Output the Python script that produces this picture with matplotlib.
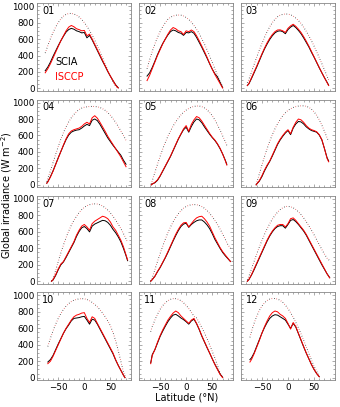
import matplotlib
matplotlib.use('Agg')
import matplotlib.pyplot as plt
from matplotlib.ticker import MultipleLocator

# month labels
months = ['01', '02', '03', '04', '05', '06', '07', '08', '09', '10', '11', '12']

# latitude grids (deg N), one list per month
lats = [
    [-75, -70, -65, -60, -55, -50, -45, -40, -35, -30, -25, -20, -15, -10, -5, 0, 5, 10, 15, 20, 25, 30, 35, 40, 45, 50, 55, 60, 65],
    [-75, -70, -65, -60, -55, -50, -45, -40, -35, -30, -25, -20, -15, -10, -5, 0, 5, 10, 15, 20, 25, 30, 35, 40, 45, 50, 55, 60, 65, 70],
    [-78, -75, -70, -65, -60, -55, -50, -45, -40, -35, -30, -25, -20, -15, -10, -5, 0, 5, 10, 15, 20, 25, 30, 35, 40, 45, 50, 55, 60, 65, 70, 75, 78],
    [-72, -70, -65, -60, -55, -50, -45, -40, -35, -30, -25, -20, -15, -10, -5, 0, 5, 10, 15, 20, 25, 30, 35, 40, 45, 50, 55, 60, 65, 70, 75, 80],
    [-67, -65, -60, -55, -50, -45, -40, -35, -30, -25, -20, -15, -10, -5, 0, 5, 10, 15, 20, 25, 30, 35, 40, 45, 50, 55, 60, 65, 70, 75, 78],
    [-61, -60, -55, -50, -45, -40, -35, -30, -25, -20, -15, -10, -5, 0, 5, 10, 15, 20, 25, 30, 35, 40, 45, 50, 55, 60, 65, 70, 75, 78],
    [-63, -60, -55, -50, -45, -40, -35, -30, -25, -20, -15, -10, -5, 0, 5, 10, 15, 20, 25, 30, 35, 40, 45, 50, 55, 60, 65, 70, 75, 80, 83],
    [-68, -65, -60, -55, -50, -45, -40, -35, -30, -25, -20, -15, -10, -5, 0, 5, 10, 15, 20, 25, 30, 35, 40, 45, 50, 55, 60, 65, 70, 75, 80, 85],
    [-78, -75, -70, -65, -60, -55, -50, -45, -40, -35, -30, -25, -20, -15, -10, -5, 0, 5, 10, 15, 20, 25, 30, 35, 40, 45, 50, 55, 60, 65, 70, 75, 80],
    [-70, -65, -60, -55, -50, -45, -40, -35, -30, -25, -20, -15, -10, -5, 0, 5, 10, 15, 20, 25, 30, 35, 40, 45, 50, 55, 60, 65, 70, 75, 78],
    [-68, -65, -60, -55, -50, -45, -40, -35, -30, -25, -20, -15, -10, -5, 0, 5, 10, 15, 20, 25, 30, 35, 40, 45, 50, 55, 60, 65, 70],
    [-73, -70, -65, -60, -55, -50, -45, -40, -35, -30, -25, -20, -15, -10, -5, 0, 5, 10, 15, 20, 25, 30, 35, 40, 45, 50, 55, 60],
]

# SCIA all-sky global irradiance (W m-2)
scia = [
    [215, 260, 320, 390, 455, 520, 580, 635, 685, 715, 730, 720, 700, 690, 675, 680, 615, 645, 590, 525, 460, 395, 330, 270, 205, 148, 95, 45, 8],
    [150, 190, 255, 330, 410, 480, 545, 600, 650, 690, 710, 700, 680, 670, 645, 680, 675, 690, 670, 620, 560, 500, 435, 370, 300, 235, 180, 140, 75, 10],
    [35, 55, 120, 190, 260, 335, 410, 480, 540, 595, 640, 675, 695, 700, 690, 665, 715, 745, 765, 740, 705, 665, 615, 560, 505, 440, 380, 315, 250, 190, 130, 75, 40],
    [20, 40, 100, 170, 250, 330, 405, 480, 550, 605, 640, 655, 665, 670, 690, 715, 735, 720, 785, 800, 780, 735, 680, 625, 570, 525, 480, 440, 400, 360, 300, 250],
    [0, 10, 25, 55, 105, 165, 225, 285, 345, 415, 485, 555, 615, 670, 700, 640, 710, 765, 800, 790, 755, 705, 660, 615, 575, 540, 495, 440, 375, 300, 250],
    [0, 10, 45, 100, 170, 230, 285, 350, 420, 490, 545, 590, 630, 660, 610, 690, 740, 770, 765, 740, 705, 680, 660, 650, 640, 605, 545, 440, 330, 290],
    [0, 15, 70, 140, 200, 235, 290, 350, 410, 470, 545, 605, 650, 665, 640, 600, 670, 695, 710, 725, 740, 735, 715, 680, 630, 590, 540, 480, 400, 310, 250],
    [0, 20, 60, 115, 165, 225, 285, 350, 420, 490, 555, 615, 665, 695, 705, 655, 690, 715, 735, 745, 745, 720, 685, 640, 580, 510, 455, 400, 350, 310, 275, 240],
    [0, 20, 75, 140, 210, 280, 350, 420, 490, 550, 600, 640, 665, 675, 675, 645, 690, 740, 750, 725, 690, 650, 610, 560, 500, 440, 380, 320, 260, 200, 145, 90, 45],
    [190, 220, 270, 340, 410, 475, 540, 595, 640, 690, 720, 725, 730, 740, 745, 700, 650, 710, 700, 650, 590, 530, 470, 410, 350, 290, 215, 150, 90, 30, 0],
    [180, 280, 340, 420, 500, 565, 625, 680, 725, 760, 770, 750, 725, 705, 680, 650, 690, 710, 655, 585, 505, 435, 365, 300, 230, 165, 105, 45, 5],
    [220, 240, 300, 380, 460, 540, 610, 670, 720, 750, 765, 760, 740, 720, 700, 650, 600, 660, 615, 535, 455, 375, 300, 230, 160, 100, 50, 12],
]

# ISCCP all-sky global irradiance (W m-2)
isccp = [
    [190, 240, 300, 370, 440, 510, 580, 640, 700, 745, 765, 750, 725, 715, 700, 705, 640, 660, 600, 535, 470, 405, 340, 275, 210, 150, 95, 40, 5],
    [95, 160, 240, 320, 400, 470, 540, 600, 660, 710, 740, 725, 700, 690, 655, 700, 690, 710, 690, 640, 580, 515, 450, 380, 305, 235, 170, 115, 60, 5],
    [35, 60, 130, 200, 270, 345, 420, 490, 555, 610, 655, 690, 710, 712, 700, 680, 730, 760, 780, 755, 720, 680, 630, 575, 515, 450, 385, 320, 255, 190, 130, 70, 35],
    [20, 35, 95, 165, 245, 325, 405, 485, 560, 620, 655, 670, 680, 690, 710, 740, 760, 740, 815, 840, 810, 760, 705, 650, 590, 540, 490, 440, 390, 340, 280, 220],
    [0, 10, 30, 60, 110, 170, 230, 290, 350, 420, 490, 560, 620, 680, 720, 650, 735, 790, 830, 815, 775, 725, 675, 625, 580, 545, 500, 445, 375, 295, 240],
    [0, 10, 50, 110, 180, 240, 290, 360, 430, 500, 555, 600, 640, 670, 620, 700, 760, 800, 790, 760, 720, 690, 670, 660, 645, 610, 550, 440, 320, 280],
    [0, 20, 80, 150, 210, 240, 300, 360, 420, 480, 560, 620, 670, 690, 660, 620, 700, 730, 750, 770, 790, 780, 760, 720, 660, 620, 560, 500, 420, 320, 260],
    [0, 20, 60, 120, 170, 230, 290, 360, 430, 500, 570, 630, 680, 710, 715, 660, 700, 740, 770, 785, 790, 760, 720, 670, 600, 530, 470, 410, 360, 320, 280, 240],
    [0, 20, 80, 150, 220, 290, 360, 430, 500, 560, 610, 650, 680, 690, 690, 660, 700, 760, 770, 740, 700, 660, 620, 570, 510, 450, 390, 330, 270, 210, 150, 90, 40],
    [170, 200, 260, 330, 400, 470, 540, 600, 650, 700, 740, 760, 770, 785, 790, 720, 670, 740, 720, 660, 600, 540, 480, 420, 360, 300, 220, 150, 90, 30, 0],
    [170, 270, 340, 430, 510, 580, 640, 700, 745, 785, 810, 790, 750, 720, 690, 660, 700, 720, 660, 590, 510, 440, 370, 300, 230, 160, 100, 40, 0],
    [190, 220, 290, 370, 450, 540, 620, 690, 750, 790, 810, 800, 770, 750, 720, 660, 590, 670, 620, 540, 460, 380, 300, 230, 160, 100, 50, 10],
]

# clear-sky global irradiance (W m-2), dotted
clear = [
    [430, 520, 605, 680, 745, 800, 845, 878, 900, 910, 912, 905, 890, 868, 838, 800, 755, 705, 648, 585, 518, 447, 372, 295, 218, 145, 80, 30, 0],
    [240, 350, 450, 540, 620, 690, 750, 800, 840, 865, 880, 890, 892, 890, 880, 862, 838, 805, 765, 718, 665, 605, 540, 470, 395, 318, 240, 160, 85, 20],
    [70, 110, 200, 290, 380, 465, 545, 620, 690, 750, 800, 840, 870, 890, 900, 905, 903, 895, 880, 855, 825, 790, 745, 695, 640, 580, 515, 445, 375, 300, 225, 150, 100],
    [40, 80, 170, 270, 370, 465, 555, 635, 705, 765, 815, 855, 890, 915, 932, 943, 948, 952, 953, 952, 948, 940, 925, 905, 878, 845, 805, 760, 710, 655, 600, 540],
    [10, 50, 150, 250, 345, 435, 515, 590, 655, 715, 765, 810, 850, 882, 908, 928, 943, 953, 958, 958, 950, 935, 912, 880, 840, 790, 730, 665, 595, 525, 480],
    [5, 25, 130, 240, 345, 440, 530, 610, 680, 740, 795, 840, 875, 905, 925, 940, 950, 957, 960, 960, 955, 942, 920, 888, 845, 790, 725, 650, 570, 530],
    [5, 30, 130, 240, 345, 440, 530, 610, 680, 740, 790, 835, 870, 898, 918, 930, 938, 940, 938, 930, 915, 893, 865, 830, 790, 745, 695, 640, 580, 515, 470],
    [5, 40, 140, 240, 335, 425, 510, 590, 660, 720, 775, 820, 858, 888, 908, 922, 930, 932, 930, 922, 908, 888, 860, 825, 785, 740, 690, 635, 575, 510, 445, 400],
    [20, 60, 150, 240, 330, 415, 495, 570, 640, 700, 755, 800, 840, 870, 893, 908, 910, 905, 893, 872, 845, 810, 770, 725, 675, 620, 565, 505, 445, 385, 330, 280, 250],
    [380, 480, 570, 650, 720, 780, 830, 870, 900, 925, 942, 950, 958, 960, 958, 950, 935, 915, 890, 860, 825, 785, 740, 690, 630, 550, 450, 330, 200, 70, 20],
    [560, 620, 700, 770, 830, 875, 910, 935, 952, 960, 960, 952, 935, 910, 878, 840, 795, 745, 725, 670, 610, 545, 475, 400, 320, 240, 150, 60, 0],
    [490, 560, 660, 745, 815, 870, 910, 938, 955, 962, 962, 955, 940, 915, 882, 840, 790, 735, 672, 605, 532, 455, 375, 295, 215, 140, 75, 25],
]

fig, axes = plt.subplots(4, 3, figsize=(3.4, 4.07), dpi=100, sharex=True, sharey=True)
fig.subplots_adjust(left=0.11, right=0.985, top=0.992, bottom=0.066, wspace=0.085, hspace=0.1)

for i, ax in enumerate(axes.flat):
    # clear-sky curves: black and red dots interleaved
    ax.plot(lats[i], clear[i], color='black', ls=(0, (0.6, 4.4)), lw=0.7)
    ax.plot(lats[i], clear[i], color='#e03030', ls=(2.5, (0.6, 4.4)), lw=0.7)
    ax.plot(lats[i], scia[i], color='black', lw=0.7)
    ax.plot(lats[i], isccp[i], color='red', lw=0.7)
    ax.text(0.05, 0.97, months[i], transform=ax.transAxes, ha='left', va='top', fontsize=7)

    ax.set_xlim(-90, 90)
    ax.set_ylim(-30, 1035)
    ax.xaxis.set_major_locator(MultipleLocator(50))
    ax.xaxis.set_minor_locator(MultipleLocator(10))
    ax.yaxis.set_major_locator(MultipleLocator(200))
    ax.yaxis.set_minor_locator(MultipleLocator(50))
    ax.tick_params(which='both', direction='in', top=True, right=True,
                   width=0.5, color='#888888', labelsize=6.3, pad=2)
    ax.tick_params(which='major', length=2.5)
    ax.tick_params(which='minor', length=1.2)
    for s in ax.spines.values():
        s.set_linewidth(0.6)
        s.set_color('#888888')

# legend as plain text in the first panel
axes[0, 0].text(-56, 320, 'SCIA', color='black', fontsize=7, va='center')
axes[0, 0].text(-56, 145, 'ISCCP', color='red', fontsize=7, va='center')

fig.text(0.018, 0.52, 'Global irradiance (W m$^{-2}$)', rotation=90,
         ha='center', va='center', fontsize=7)
fig.text(0.548, 0.012, 'Latitude (°N)', ha='center', va='bottom', fontsize=7)

fig.savefig('out.png', dpi=100)
